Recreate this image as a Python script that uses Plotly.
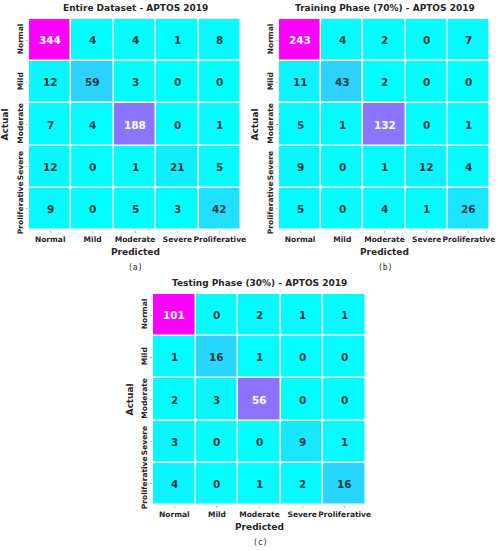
import plotly.graph_objects as go

# ── Data ────────────────────────────────────────────────────────────────────
CLASSES = ["Normal", "Mild", "Moderate", "Severe", "Proliferative"]

CM_ENTIRE = [
    [344, 4, 4, 1, 8],
    [12, 59, 3, 0, 0],
    [7, 4, 188, 0, 1],
    [12, 0, 1, 21, 5],
    [9, 0, 5, 3, 42],
]
CM_TRAIN = [
    [243, 4, 2, 0, 7],
    [11, 43, 2, 0, 0],
    [5, 1, 132, 0, 1],
    [9, 0, 1, 12, 4],
    [5, 0, 4, 1, 26],
]
CM_TEST = [
    [101, 0, 2, 1, 1],
    [1, 16, 1, 0, 0],
    [2, 3, 56, 0, 0],
    [3, 0, 0, 9, 1],
    [4, 0, 1, 2, 16],
]
TITLES = [
    "Entire Dataset - APTOS 2019",
    "Training Phase (70%) - APTOS 2019",
    "Testing Phase (30%) - APTOS 2019",
]
CAPTIONS = ["(a)", "(b)", "(c)"]

# ── Style ───────────────────────────────────────────────────────────────────
W, H = 501, 550
FONT = "DejaVu Sans"
DARK = "#1f3b3b"
COOL = [[0.0, "#00ffff"], [1.0, "#ff00ff"]]

# panel boxes in pixels: (left, right, top, bottom)
BOXES = [(29, 241, 19, 230), (279, 490, 19, 230), (153, 366, 294, 505)]

fig = go.Figure()
layout = {}


def label(x, y, text, size=9, family=FONT, angle=0):
    fig.add_annotation(x=x, y=y, xref="paper", yref="paper", text=text,
                       showarrow=False, xanchor="center", yanchor="middle",
                       textangle=angle,
                       font=dict(family=family, size=size, color="#262626"))


for k, (cm, box) in enumerate(zip([CM_ENTIRE, CM_TRAIN, CM_TEST], BOXES)):
    l, r, t, b = box
    n = "" if k == 0 else str(k + 1)
    xa, ya = "x" + n, "y" + n
    vmax = max(max(row) for row in cm)

    fig.add_trace(go.Heatmap(
        z=cm, x=CLASSES, y=CLASSES,
        colorscale=COOL, zmin=0, zmax=vmax,
        xgap=1.5, ygap=1.5, showscale=False,
        xaxis=xa, yaxis=ya, hoverinfo="skip",
    ))

    # cell labels: white on strong cells, dark on pale ones
    for i, row in enumerate(cm):
        for j, v in enumerate(row):
            fig.add_annotation(
                x=CLASSES[j], y=CLASSES[i], xref=xa, yref=ya,
                text=f"<b>{v}</b>", showarrow=False,
                font=dict(family=FONT, size=10.5,
                          color="white" if v / vmax > 0.4 else DARK),
            )

    axis_common = dict(
        showgrid=False, zeroline=False, automargin=False,
        tickfont=dict(family=FONT, size=7.5, color="#262626"),
        ticks="outside", ticklen=2, tickcolor="#bbb",
        tickprefix="<b>", ticksuffix="</b>",
    )
    layout["xaxis" + n] = dict(domain=[l / W, r / W], anchor=ya,
                               tickangle=0, **axis_common)
    layout["yaxis" + n] = dict(domain=[1 - b / H, 1 - t / H], anchor=xa,
                               autorange="reversed", tickangle=-90,
                               **axis_common)

    cx = (l + r) / 2 / W
    label(cx, 1 - (t - 11) / H, f"<b>{TITLES[k]}</b>")
    label(cx, 1 - (b + 22) / H, "<b>Predicted</b>")
    label(cx, 1 - (b + 37) / H, CAPTIONS[k], size=8, family="DejaVu Sans Mono")
    label((l - 24) / W, 1 - (t + b) / 2 / H, "<b>Actual</b>", angle=-90)

fig.update_layout(
    width=W, height=H,
    margin=dict(l=0, r=0, t=0, b=0),
    paper_bgcolor="white", plot_bgcolor="white",
    **layout,
)

# drop the browser's default body margin so the figure sits at the window edge
fig.write_html("out.html", config={"displayModeBar": False},
               post_script="document.body.style.margin='0';")
